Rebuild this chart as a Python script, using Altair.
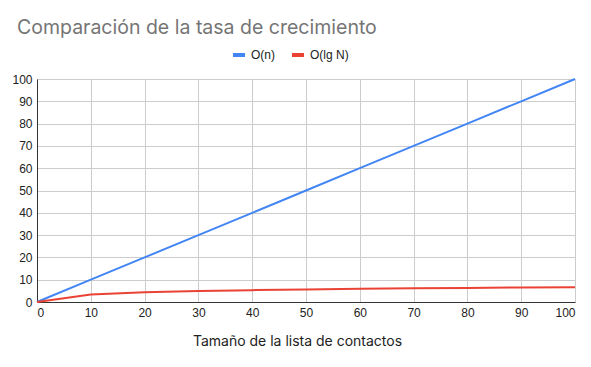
import altair as alt
import pandas as pd

tamanos = [0, 10, 20, 30, 40, 50, 60, 70, 80, 90, 100]
o_n = [0, 10, 20, 30, 40, 50, 60, 70, 80, 90, 100]
o_lg_n = [0, 3.32, 4.32, 4.91, 5.32, 5.64, 5.91, 6.13, 6.32, 6.49, 6.64]
series = ["O(n)", "O(lg N)"]
colors = ["#4285F4", "#EA4335"]
ticks = [0, 10, 20, 30, 40, 50, 60, 70, 80, 90, 100]

rows = []
for x, a, b in zip(tamanos, o_n, o_lg_n):
    rows.append({"x": x, "y": a, "serie": series[0]})
    rows.append({"x": x, "y": b, "serie": series[1]})
df = pd.DataFrame(rows)

chart = alt.Chart(df).mark_line(strokeWidth=2).encode(
    x=alt.X("x:Q", scale=alt.Scale(domain=[0, 100], nice=False),
            axis=alt.Axis(values=ticks, title="Tamaño de la lista de contactos",
                          grid=True, gridColor="#cccccc", domainColor="#333333",
                          ticks=False, labelPadding=5, labelFont="Liberation Sans",
                          labelFontSize=12, labelColor="#222222",
                          titleFont="Inter", titleFontSize=14, titleFontWeight="normal",
                          titleColor="#222222", titlePadding=16, titleX=260)),
    y=alt.Y("y:Q", scale=alt.Scale(domain=[0, 100], nice=False),
            axis=alt.Axis(values=ticks, title=None, grid=True, gridColor="#cccccc",
                          domainColor="#333333", ticks=False, labelPadding=5,
                          labelFont="Liberation Sans", labelFontSize=12,
                          labelColor="#222222")),
    color=alt.Color("serie:N", scale=alt.Scale(domain=series, range=colors),
                    sort=series,
                    legend=alt.Legend(title=None, orient="none", direction="horizontal",
                                      legendX=194, legendY=-32, symbolType="stroke",
                                      symbolStrokeWidth=4, symbolSize=144,
                                      labelFont="Liberation Sans", labelFontSize=12,
                                      labelColor="#222222", columnPadding=9)),
).properties(
    width=538,
    height=223,
    title=alt.TitleParams("Comparación de la tasa de crecimiento", anchor="start",
                          font="Inter", fontSize=19.5, fontWeight="normal",
                          color="#757575", frame="bounds", offset=9, dx=5),
    autosize=alt.AutoSizeParams(type="none"),
    padding={"left": 29, "top": 71, "right": 8, "bottom": 57},
).configure_view(stroke=None)

chart.save("out.html", embed_options={"renderer": "svg", "actions": False})
